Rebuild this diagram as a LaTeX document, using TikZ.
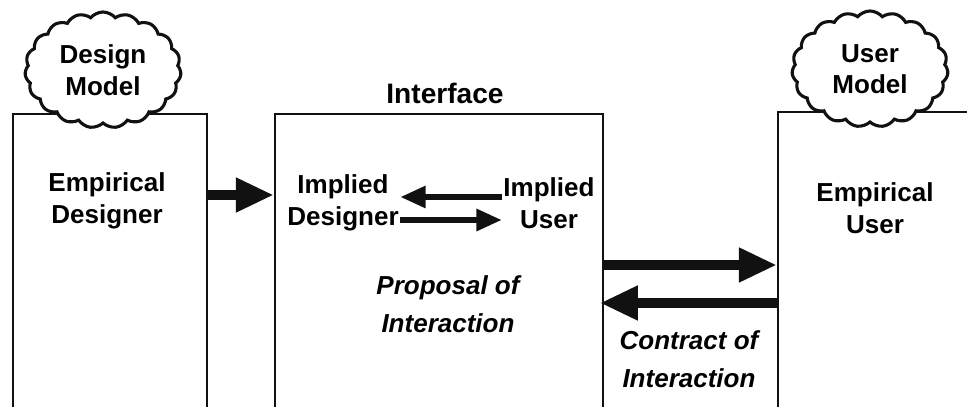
\documentclass[tikz,border=0pt]{standalone}
\usepackage{fontspec}
\setmainfont{Liberation Sans}
\usepackage{tikz}
\usetikzlibrary{arrows.meta,positioning,shapes.symbols}
\definecolor{ink}{HTML}{111111}
\tikzset{
  agentbox/.style={draw=ink,fill=white,line width=1.6pt,inner sep=0pt},
  thought/.style={cloud,cloud puffs=19,cloud puff arc=100,cloud ignores aspect,
                  draw=ink,fill=white,line width=2.2pt,inner sep=0pt,
                  minimum width=3.9cm,minimum height=2.9cm,
                  align=center,font=\fontsize{18.5}{22.5}\selectfont\bfseries},
  rolelabel/.style={align=center,inner sep=1pt,
                    font=\fontsize{18.5}{22.5}\selectfont\bfseries},
  notelabel/.style={align=center,inner sep=1pt,
                    font=\fontsize{18.5}{27}\selectfont\bfseries\itshape},
  bigarr/.style={-{Triangle[length=27pt,width=23pt]},line width=7pt,color=ink},
  smallarr/.style={-{Triangle[length=18pt,width=15pt]},line width=4pt,color=ink}
}
\begin{document}
\begin{tikzpicture}[x=0.025cm,y=-0.025cm]
  \useasboundingbox (0,0) rectangle (967,407);
  \clip (0,0) rectangle (967,407);
  % the three parties, open at the foot
  \node[agentbox,minimum width=4.85cm,minimum height=8.15cm] (designer) at (110,277) {};
  \node[agentbox,minimum width=8.2cm,minimum height=8.15cm] (iface) at (439,277) {};
  \node[agentbox,minimum width=5.55cm,minimum height=8.2cm] (user) at (889,276) {};
  \node[rolelabel,font=\fontsize{20}{24}\selectfont\bfseries] (ifacelbl) at (445,93) {Interface};
  \node[rolelabel] (empd) at (107,201) {Empirical\\Designer};
  \node[rolelabel] (impd) at (343,203) {Implied\\Designer};
  \node[rolelabel] (impu) at (549,203) {Implied\\User};
  \node[rolelabel] (empu) at (875,208) {Empirical\\User};
  \node[notelabel] (proposal) at (448,304) {Proposal of\\Interaction};
  \node[notelabel] (contract) at (689,359) {Contract of\\Interaction};
  % models
  \node[thought] (dmodel) at (103,70) {Design\\Model};
  \node[thought] (umodel) at (870,69) {User\\Model};
  % arrow levels
  \coordinate (dlevel) at (0,195);
  \coordinate (back) at (0,197);
  \coordinate (forth) at (0,220);
  \coordinate (offer) at (0,265);
  \coordinate (reply) at (0,303);
  \draw[bigarr] (designer.east |- dlevel) -- (iface.west |- dlevel);
  \draw[smallarr] (impu.west |- back) -- (impd.east |- back);
  \draw[smallarr] (impd.east |- forth) -- (impu.west |- forth);
  \draw[bigarr] (iface.east |- offer) -- (user.west |- offer);
  \draw[bigarr] (user.west |- reply) -- ([xshift=-3pt]iface.east |- reply);
\end{tikzpicture}
\end{document}
